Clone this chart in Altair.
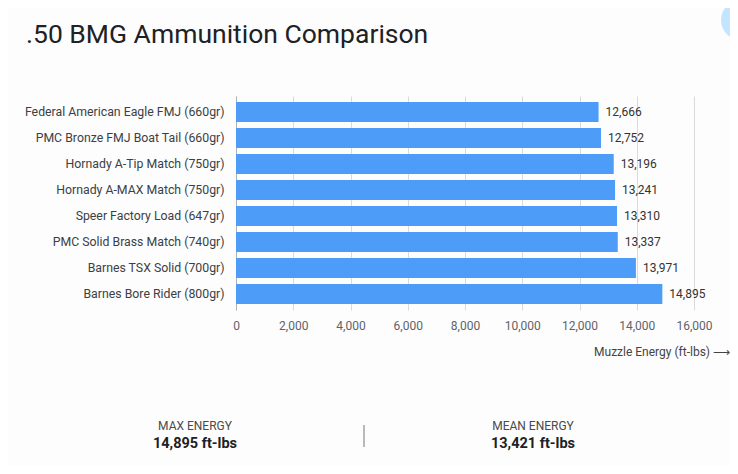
import pandas as pd
import altair as alt

loads = [
    "Federal American Eagle FMJ (660gr)",
    "PMC Bronze FMJ Boat Tail (660gr)",
    "Hornady A-Tip Match (750gr)",
    "Hornady A-MAX Match (750gr)",
    "Speer Factory Load (647gr)",
    "PMC Solid Brass Match (740gr)",
    "Barnes TSX Solid (700gr)",
    "Barnes Bore Rider (800gr)",
]
energy = [12666, 12752, 13196, 13241, 13310, 13337, 13971, 14895]
x_ticks = [0, 2000, 4000, 6000, 8000, 10000, 12000, 14000, 16000]

df = pd.DataFrame({"load": loads, "energy": energy})
max_e = max(energy)
mean_e = round(sum(energy) / len(energy))

FONT = "Roboto"

base = alt.Chart(df).encode(
    y=alt.Y("load:N", sort=None, title=None,
            scale=alt.Scale(paddingInner=0.23, paddingOuter=0.23),
            axis=alt.Axis(labelFontSize=12.3, labelColor="#3c4043", labelFont=FONT,
                          labelPadding=12, ticks=False, tickSize=0,
                          domainColor="#b0b0b0", labelLimit=300)),
    x=alt.X("energy:Q", title=None,
            scale=alt.Scale(domain=[0, 16000], nice=False),
            axis=alt.Axis(values=x_ticks, format=",d", labelFontSize=12,
                          labelColor="#5f6368", labelFont=FONT, labelPadding=10,
                          labelFlush=False, labelOverlap=False,
                          ticks=False, tickSize=0, domain=False,
                          gridColor="#dadada")),
)

bars = base.mark_bar(color="#4d9df8")
values = base.mark_text(align="left", baseline="middle", dx=7, fontSize=12,
                        font=FONT, color="#333333").encode(
    text=alt.Text("energy:Q", format=",d"))


def label(text, x, y, size=12, weight="normal", color="#3c4043", align="center"):
    return alt.Chart(pd.DataFrame({"t": [text]})).mark_text(
        align=align, baseline="middle", fontSize=size, fontWeight=weight,
        font=FONT, color=color).encode(x=alt.value(x), y=alt.value(y), text="t:N")


title = alt.Chart(pd.DataFrame({"t": [".50 BMG Ammunition Comparison"]})).mark_text(
    align="left", baseline="alphabetic", fontSize=26.5, font=FONT, color="#202124"
).encode(x=alt.value(-210), y=alt.value(-53), text="t:N")

blob = alt.Chart(pd.DataFrame({"a": [1]})).mark_point(
    shape="circle", filled=True, size=1600, color="#c4e5ff", opacity=1
).encode(x=alt.value(505), y=alt.value(-76))

x_title = label("Muzzle Energy (ft-lbs) \u27f6", 494, 256, size=12,
                color="#444444", align="right")
max_lbl = label("MAX ENERGY", -41, 330, size=12, color="#4a4a4a")
max_val = label(f"{max_e:,} ft-lbs", -41, 348, size=14.5, weight="bold", color="#202124")
mean_lbl = label("MEAN ENERGY", 297, 330, size=12, color="#4a4a4a")
mean_val = label(f"{mean_e:,} ft-lbs", 297, 348, size=14.5, weight="bold", color="#202124")

divider = alt.Chart(pd.DataFrame({"a": [1]})).mark_rule(
    color="#777777", strokeWidth=1
).encode(x=alt.value(128), y=alt.value(329), y2=alt.value(351))

chart = alt.layer(
    bars, values, title, blob, x_title, max_lbl, max_val, mean_lbl, mean_val, divider
).properties(
    width=458, height=214,
    autosize=alt.AutoSizeParams(type="none"),
    padding={"left": 228, "top": 88, "right": 36, "bottom": 156},
    background="#fdfdfd",
).configure_view(stroke=None, clip=False)

chart.save("out.html", embed_options={"renderer": "svg", "actions": False})
